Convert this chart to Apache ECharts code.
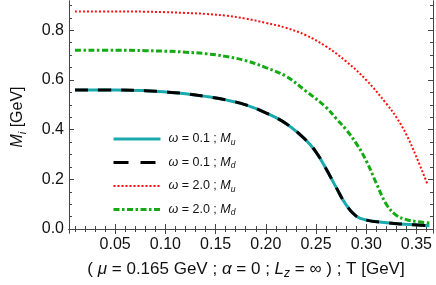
<!DOCTYPE html>
<html><head><meta charset="utf-8">
<script src="https://cdn.jsdelivr.net/npm/echarts@6/dist/echarts.min.js"></script>
<style>html,body{margin:0;padding:0;background:#fff}#c{width:436px;height:285px}</style>
</head><body><div id="c"></div>
<script>
// Temperature values [GeV]
const tLow = [0.01,0.05,0.08,0.10,0.12,0.14,0.16,0.18,0.20,0.22,0.24,0.25,0.26,0.27,0.28,0.29,0.30,0.32,0.34,0.363];
const muLow = [0.560,0.560,0.557,0.552,0.545,0.534,0.520,0.500,0.468,0.425,0.358,0.310,0.243,0.168,0.097,0.052,0.036,0.025,0.019,0.013];
const mdLow = [0.560,0.560,0.557,0.552,0.545,0.534,0.520,0.500,0.468,0.425,0.358,0.310,0.243,0.168,0.097,0.052,0.036,0.025,0.019,0.013];
const tHighU = [0.01,0.05,0.08,0.10,0.12,0.14,0.16,0.18,0.20,0.22,0.24,0.26,0.28,0.30,0.32,0.33,0.34,0.35,0.361];
const muHigh = [0.876,0.876,0.875,0.873,0.870,0.866,0.859,0.847,0.830,0.810,0.780,0.735,0.675,0.600,0.505,0.450,0.380,0.290,0.180];
const tHighD = [0.01,0.05,0.08,0.10,0.12,0.14,0.16,0.18,0.20,0.22,0.24,0.26,0.27,0.28,0.29,0.30,0.31,0.32,0.33,0.34,0.35,0.363];
const mdHigh = [0.720,0.720,0.718,0.716,0.712,0.706,0.695,0.678,0.650,0.615,0.555,0.490,0.445,0.400,0.345,0.275,0.185,0.100,0.055,0.038,0.030,0.024];
const xMajor = [0.05,0.10,0.15,0.20,0.25,0.30,0.35];
const xMinor = [0.01,0.02,0.03,0.04,0.06,0.07,0.08,0.09,0.11,0.12,0.13,0.14,0.16,0.17,0.18,0.19,0.21,0.22,0.23,0.24,0.26,0.27,0.28,0.29,0.31,0.32,0.33,0.34,0.36];
const yMajor = [0.0,0.2,0.4,0.6,0.8];
const yMinor = [0.05,0.10,0.15,0.25,0.30,0.35,0.45,0.50,0.55,0.65,0.70,0.75,0.85,0.90];
const seriesNames = ['a','b','c','d'];

const pair = (xs, ys) => xs.map((x,i)=>[x, ys[i]]);
const FONT = 'Liberation Sans, Arial, sans-serif';
const frame = {show:true, lineStyle:{color:'#444', width:1}};
const X0 = 0.004, X1 = 0.3665, Y0 = -0.016, Y1 = 0.918;

function xAx(pos, ticks, len, labels) {
  return {type:'value', position:pos, min:X0, max:X1, axisLine:frame,
    splitLine:{show:false},
    axisTick:{show:true, inside:true, length:len, customValues:ticks, lineStyle:{color:'#444'}},
    axisLabel:labels ? {show:true, customValues:ticks, formatter:v=>v.toFixed(2), fontSize:16, fontFamily:FONT, color:'#111', margin:4} : {show:false}};
}
function yAx(pos, ticks, len, labels) {
  return {type:'value', position:pos, min:Y0, max:Y1, axisLine:frame,
    splitLine:{show:false},
    axisTick:{show:true, inside:true, length:len, customValues:ticks, lineStyle:{color:'#444'}},
    axisLabel:labels ? {show:true, customValues:ticks, formatter:v=>v.toFixed(1), fontSize:16, fontFamily:FONT, color:'#111', margin:5} : {show:false}};
}
const xa0 = xAx('bottom', xMajor, 5, true);
xa0.name = '( {i|μ} = 0.165 GeV ; {i|α} = 0 ; {i|L}{s|z} = ∞ ) ; T [GeV]';
xa0.nameLocation = 'middle';
xa0.nameGap = 26;
xa0.nameTextStyle = {fontSize:17, fontFamily:FONT, color:'#111', lineHeight:21, padding:[0,10,0,0],
  rich:{i:{fontStyle:'italic', fontSize:17, fontFamily:FONT, color:'#111', lineHeight:21},
        s:{fontStyle:'italic', fontSize:12, fontFamily:FONT, color:'#111', lineHeight:21, verticalAlign:'bottom'}}};
const ya0 = yAx('left', yMajor, 5, true);
ya0.name = '{i|M}{s|i} [GeV]';
ya0.nameLocation = 'middle';
ya0.nameRotate = 90;
ya0.nameGap = 41;
ya0.nameTextStyle = {fontSize:16, fontFamily:FONT, color:'#111', lineHeight:20,
  rich:{i:{fontStyle:'italic', fontSize:16, fontFamily:FONT, color:'#111', lineHeight:20},
        s:{fontStyle:'italic', fontSize:11, fontFamily:FONT, color:'#111', lineHeight:20, verticalAlign:'bottom'}}};

const legRich = {
  i:{fontStyle:'italic', fontSize:12.5, fontFamily:FONT, color:'#111'},
  s:{fontStyle:'italic', fontSize:8.5, fontFamily:FONT, color:'#111', verticalAlign:'bottom', lineHeight:16}
};
const labels = {
  a:'{i|ω} = 0.1 ; {i|M}{s|u}',
  b:'{i|ω} = 0.1 ; {i|M}{s|d}',
  c:'{i|ω} = 2.0 ; {i|M}{s|u}',
  d:'{i|ω} = 2.0 ; {i|M}{s|d}'
};
const legendData = seriesNames.map(n => n === 'b'
  ? {name:n, lineStyle:{type:[15,12], width:3, color:'#000'}}
  : {name:n});

const chart = echarts.init(document.getElementById('c'), null, {renderer:'canvas'});
chart.setOption({
  animation:false,
  backgroundColor:'#fff',
  grid:{left:55, right:3, top:1, bottom:51, containLabel:false},
  xAxis:[xa0, xAx('bottom', xMinor, 3, false), xAx('top', xMajor, 5, false), xAx('top', xMinor, 3, false)],
  yAxis:[ya0, yAx('left', yMinor, 3, false), yAx('right', yMajor, 5, false), yAx('right', yMinor, 3, false)],
  legend:{orient:'vertical', left:112, top:132.5, padding:0, itemWidth:47, itemHeight:14, itemGap:9,
    data:legendData, formatter:n=>labels[n],
    itemStyle:{color:'rgba(0,0,0,0)', borderWidth:0, opacity:0},
    lineStyle:{width:'inherit'},
    textStyle:{fontSize:12.5, fontFamily:FONT, color:'#111', padding:[0,0,0,3], rich:legRich}},
  series:[
    {name:'a', type:'line', data:pair(tLow, muLow), smooth:0.4, symbol:'none', z:2,
      lineStyle:{color:'#1aa9ae', width:3}, itemStyle:{color:'#1aa9ae'}},
    {name:'b', type:'line', data:pair(tLow, mdLow), smooth:0.4, symbol:'none', z:3,
      lineStyle:{color:'#000', width:3, type:[13,10]}, itemStyle:{color:'#000'}},
    {name:'c', type:'line', data:pair(tHighU, muHigh), smooth:0.4, symbol:'none', z:2,
      lineStyle:{color:'#ff1010', width:2, type:[2,2]}, itemStyle:{color:'#ff1010'}},
    {name:'d', type:'line', data:pair(tHighD, mdHigh), smooth:0.4, symbol:'none', z:2,
      lineStyle:{color:'#13aa13', width:3, type:[6,2.5,2.5,2.5]}, itemStyle:{color:'#13aa13'}}
  ]
});
</script></body></html>
